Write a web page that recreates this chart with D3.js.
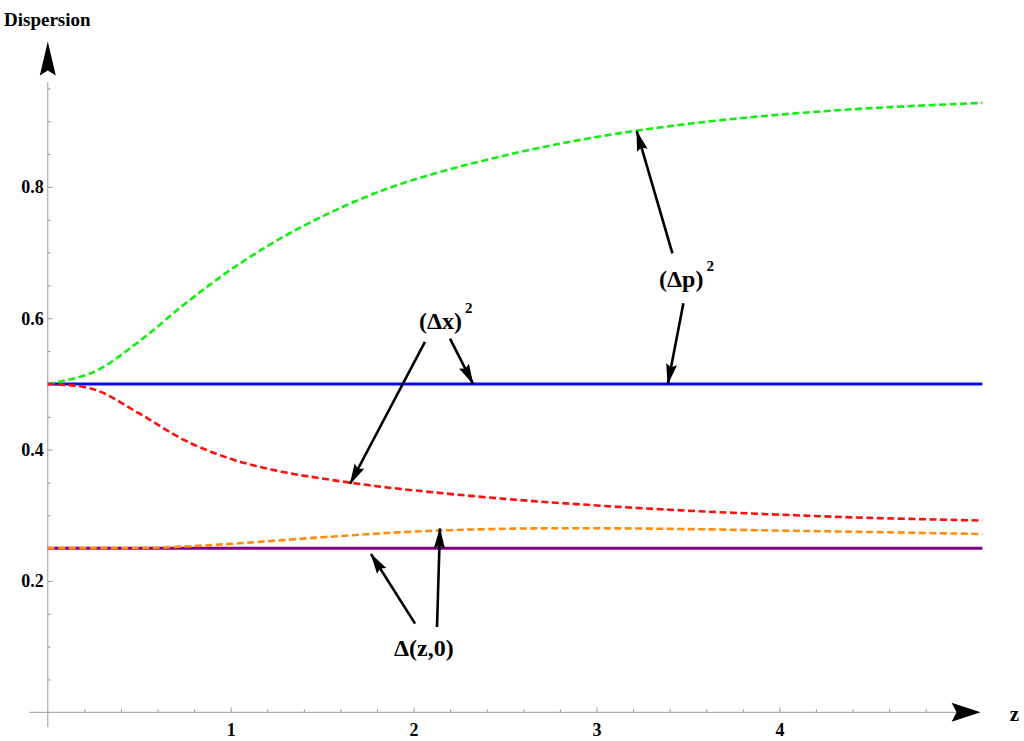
<!DOCTYPE html>
<html>
<head>
<meta charset="utf-8">
<script src="https://cdn.jsdelivr.net/npm/d3@7"></script>
<style>
  body { margin: 0; background: #fff; }
  svg text { font-family: "Liberation Serif", "Times New Roman", serif; font-weight: bold; fill: #000; }
</style>
</head>
<body>
<div id="chart"></div>
<script>
// sample points along z
var zValues   = [0, 0.25, 0.5, 0.75, 1, 1.25, 1.5, 1.75, 2, 2.5, 3, 3.5, 4, 4.5, 5.11];
var dpSquared = [0.5, 0.518, 0.565, 0.622, 0.674, 0.718, 0.755, 0.786, 0.811, 0.848, 0.876, 0.896, 0.910, 0.920, 0.928];
var dxSquared = [0.5, 0.492, 0.455, 0.414, 0.386, 0.368, 0.356, 0.346, 0.338, 0.325, 0.315, 0.307, 0.301, 0.296, 0.292];
var deltaZ0   = [0.25, 0.25, 0.2502, 0.2525, 0.2565, 0.2615, 0.2665, 0.2712, 0.2752, 0.2795, 0.2802, 0.2790, 0.2767, 0.2745, 0.2715];
var blueLevel = [0.5, 0.5];
var purpleLevel = [0.25, 0.25];
var flatZ = [0, 5.11];

var xMajor = [1, 2, 3, 4];
var yMajor = [0.2, 0.4, 0.6, 0.8];

// annotations in data units: label anchor and arrows (from -> tip)
var labels = [
    {main: "(\u0394p)", sup: "2", z: 3.342, v: 0.647},
    {main: "(\u0394x)", sup: "2", z: 2.029, v: 0.583},
    {main: "\u0394(z,0)", sup: "", z: 1.893, v: 0.086}
];
var arrows = [
    {z0: 3.415, v0: 0.699, z1: 3.22, v1: 0.885},
    {z0: 3.475, v0: 0.623, z1: 3.39, v1: 0.5},
    {z0: 2.062, v0: 0.564, z1: 1.653, v1: 0.348},
    {z0: 2.199, v0: 0.569, z1: 2.325, v1: 0.5},
    {z0: 2.008, v0: 0.135, z1: 1.767, v1: 0.241},
    {z0: 2.128, v0: 0.130, z1: 2.144, v1: 0.280}
];

var width = 1024, height = 741;

var x = d3.scaleLinear().domain([0, 5]).range([47.8, 47.8 + 182.9 * 5]);
var y = d3.scaleLinear().domain([0, 1]).range([712.3, 712.3 - 656.7]);

var svg = d3.select('#chart')
    .append('svg')
    .attr('width', width)
    .attr('height', height);

var defs = svg.append('defs');
defs.append('marker')
    .attr('id', 'head')
    .attr('markerUnits', 'userSpaceOnUse')
    .attr('viewBox', '0 -6 21 12')
    .attr('refX', 20)
    .attr('refY', 0)
    .attr('markerWidth', 21)
    .attr('markerHeight', 12)
    .attr('orient', 'auto')
    .append('path')
    .attr('d', 'M0,-5.5L21,0L0,5.5L3,0Z')
    .attr('fill', '#000');

var axisColor = '#9a9a9a';

// x axis line + arrow
var axes = svg.append('g');
axes.append('line')
    .attr('x1', x(-0.1)).attr('x2', x(4.98))
    .attr('y1', y(0)).attr('y2', y(0))
    .attr('stroke', axisColor).attr('stroke-width', 1);
axes.append('path')
    .attr('d', 'M' + x(5.1) + ',' + y(0) + 'l-29,-9.5l5,9.5l-5,9.5z')
    .attr('fill', '#000');

// y axis line + arrow
axes.append('line')
    .attr('x1', x(0)).attr('x2', x(0))
    .attr('y1', y(-0.022)).attr('y2', y(0.96))
    .attr('stroke', axisColor).attr('stroke-width', 1);
axes.append('path')
    .attr('d', 'M' + x(0) + ',' + y(1.0215) + 'l-8,34l8,-5l8,5z')
    .attr('fill', '#000');

// ticks
var xMinorAxis = d3.axisBottom(x)
    .tickValues(d3.range(0.2, 4.9, 0.2).filter(function (d) { return Math.abs(d - Math.round(d)) > 0.01; }))
    .tickSize(-3).tickFormat('');
var xMajorAxis = d3.axisBottom(x)
    .tickValues(xMajor).tickSize(-5).tickPadding(11)
    .tickFormat(d3.format('d'));
var yMinorAxis = d3.axisLeft(y)
    .tickValues(d3.range(0.05, 0.96, 0.05).filter(function (d) { return Math.abs(d * 5 - Math.round(d * 5)) > 0.01; }))
    .tickSize(-3).tickFormat('');
var yMajorAxis = d3.axisLeft(y)
    .tickValues(yMajor).tickSize(-5).tickPadding(4)
    .tickFormat(d3.format('.1f'));

[xMinorAxis, xMajorAxis].forEach(function (a) {
    svg.append('g').attr('transform', 'translate(0,' + y(0) + ')').call(a);
});
[yMinorAxis, yMajorAxis].forEach(function (a) {
    svg.append('g').attr('transform', 'translate(' + x(0) + ',0)').call(a);
});
svg.selectAll('.domain').remove();
svg.selectAll('.tick line').attr('stroke', axisColor);
svg.selectAll('.tick text')
    .style('font-size', '18px')
    .style('font-family', '"Liberation Serif", "Times New Roman", serif')
    .style('font-weight', 'bold');

// axis titles
svg.append('text')
    .attr('x', 4).attr('y', 26)
    .style('font-size', '19px')
    .text('Dispersion');
svg.append('text')
    .attr('x', x(5.26)).attr('y', y(0) + 9)
    .style('font-size', '21px')
    .text('z');

// curves
var line = d3.line()
    .x(function (d) { return x(d[0]); })
    .y(function (d) { return y(d[1]); })
    .curve(d3.curveCatmullRom.alpha(0.5));

var series = [
    {z: flatZ, v: blueLevel, color: '#0a0af0', dash: null, w: 3},
    {z: flatZ, v: purpleLevel, color: '#800080', dash: null, w: 3},
    {z: zValues, v: dpSquared, color: '#11ee11', dash: '7,3.5', w: 2.6},
    {z: zValues, v: dxSquared, color: '#ff1010', dash: '7,3.5', w: 2.6},
    {z: zValues, v: deltaZ0, color: '#ff8c0a', dash: '7,3.5', w: 2.6}
];

svg.append('g').selectAll('path')
    .data(series)
    .enter().append('path')
    .attr('d', function (s) { return line(d3.zip(s.z, s.v)); })
    .attr('fill', 'none')
    .attr('stroke', function (s) { return s.color; })
    .attr('stroke-width', function (s) { return s.w; })
    .attr('stroke-dasharray', function (s) { return s.dash; });

// annotation arrows
svg.append('g').selectAll('line')
    .data(arrows)
    .enter().append('line')
    .attr('x1', function (d) { return x(d.z0); })
    .attr('y1', function (d) { return y(d.v0); })
    .attr('x2', function (d) { return x(d.z1); })
    .attr('y2', function (d) { return y(d.v1); })
    .attr('stroke', '#000')
    .attr('stroke-width', 2.6)
    .attr('marker-end', 'url(#head)');

// annotation labels
var lab = svg.append('g').selectAll('text')
    .data(labels)
    .enter().append('text')
    .attr('x', function (d) { return x(d.z); })
    .attr('y', function (d) { return y(d.v); })
    .style('font-size', '24px');
lab.append('tspan').text(function (d) { return d.main; });
lab.append('tspan')
    .attr('dx', 3)
    .attr('dy', -16)
    .style('font-size', '15px')
    .text(function (d) { return d.sup; });
</script>
</body>
</html>
